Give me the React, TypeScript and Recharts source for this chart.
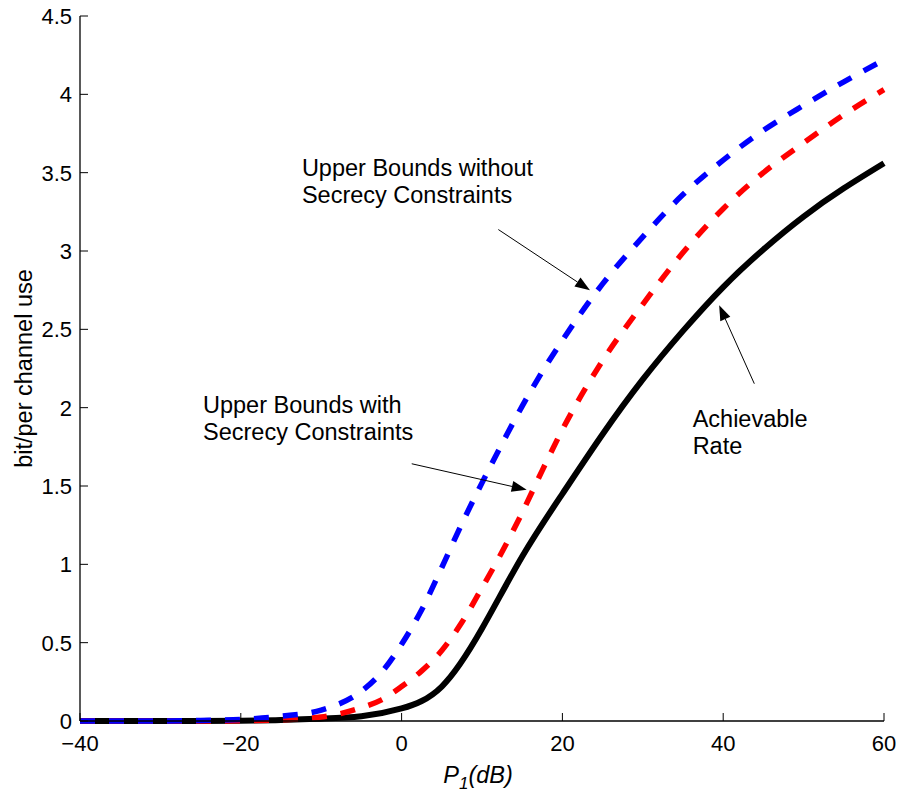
import {
  LineChart,
  Line,
  XAxis,
  YAxis,
  ReferenceLine,
  ReferenceDot,
} from "recharts";

// dense grid for the two upper bounds
const powerDb = [
  -40, -35, -30, -25, -20, -15, -10, -5, -2.5, 0, 2.5, 5, 7.5, 10, 12.5, 15,
  17.5, 20, 25, 30, 35, 40, 45, 50, 55, 60,
];
const withSecrecy = [
  0, 0, 0, 0, 0.002, 0.008, 0.025, 0.085, 0.135, 0.22, 0.32, 0.45, 0.63, 0.85,
  1.08, 1.33, 1.6, 1.86, 2.3, 2.66, 2.99, 3.27, 3.5, 3.69, 3.87, 4.03,
];
const withoutSecrecy = [
  0, 0, 0, 0.003, 0.01, 0.03, 0.07, 0.19, 0.31, 0.49, 0.71, 0.98, 1.26, 1.52,
  1.77, 2.01, 2.23, 2.43, 2.79, 3.09, 3.36, 3.58, 3.77, 3.93, 4.08, 4.22,
];
// even grid for the achievable rate (natural spline)
const powerDbRate = [
  -40, -35, -30, -25, -20, -15, -10, -5, 0, 5, 10, 15, 20, 25, 30, 35, 40, 45,
  50, 55, 60,
];
const achievable = [
  0, 0, 0, 0, 0.002, 0.006, 0.015, 0.03, 0.08, 0.22, 0.59, 1.05, 1.45, 1.83,
  2.18, 2.49, 2.77, 3.01, 3.22, 3.4, 3.56,
];
const xTicks = [-40, -20, 0, 20, 40, 60];
const yTicks = [0, 0.5, 1, 1.5, 2, 2.5, 3, 3.5, 4, 4.5];

const data = powerDb.map((x, i) => ({
  x,
  up: withSecrecy[i],
  upNo: withoutSecrecy[i],
}));
const rateData = powerDbRate.map((x, i) => ({ x, ach: achievable[i] }));

const FONT = "'Liberation Sans', Arial, Helvetica, sans-serif";
const FS = 22; // tick labels
const LFS = 23.5; // annotations and axis titles
const TICK = 8;

const fmt = (v: number) => (v < 0 ? "\u2212" + Math.abs(v) : String(v));

function BottomTick({ x, y, payload }: any) {
  return (
    <g>
      <line x1={x} y1={y} x2={x} y2={y - TICK} stroke="#000" strokeWidth={1} />
      <text x={x} y={y + 30} textAnchor="middle" fontFamily={FONT} fontSize={FS} fill="#000">
        {fmt(payload.value)}
      </text>
    </g>
  );
}
function TopTick({ x, y }: any) {
  return <line x1={x} y1={y} x2={x} y2={y + TICK} stroke="#000" strokeWidth={1} />;
}
function LeftTick({ x, y, payload }: any) {
  return (
    <g>
      <line x1={x} y1={y} x2={x + TICK} y2={y} stroke="#000" strokeWidth={1} />
      <text x={x - 8} y={y + 8} textAnchor="end" fontFamily={FONT} fontSize={FS} fill="#000">
        {payload.value}
      </text>
    </g>
  );
}
function RightTick({ x, y }: any) {
  return <line x1={x} y1={y} x2={x - TICK} y2={y} stroke="#000" strokeWidth={1} />;
}

function Arrow({ x1, y1, x2, y2 }: any) {
  const a = Math.atan2(y2 - y1, x2 - x1);
  const len = 15;
  const w = 5.5;
  const bx = x2 - len * Math.cos(a);
  const by = y2 - len * Math.sin(a);
  const px = -Math.sin(a) * w;
  const py = Math.cos(a) * w;
  return (
    <g>
      <line x1={x1} y1={y1} x2={bx} y2={by} stroke="#000" strokeWidth={1} />
      <polygon points={`${x2},${y2} ${bx + px},${by + py} ${bx - px},${by - py}`} fill="#000" />
    </g>
  );
}

function Note(lines: string[]) {
  return ({ cx, cy }: any) => (
    <text x={cx} y={cy} fontFamily={FONT} fontSize={LFS} fill="#000">
      {lines.map((l, i) => (
        <tspan key={i} x={cx} dy={i === 0 ? 0 : 27}>
          {l}
        </tspan>
      ))}
    </text>
  );
}

function XLabel({ viewBox }: any) {
  const cx = viewBox.x + viewBox.width / 2 - 4;
  const y = viewBox.y + 62;
  return (
    <text x={cx} y={y} textAnchor="middle" fontFamily={FONT} fontSize={LFS} fontStyle="italic" fill="#000">
      <tspan>P</tspan>
      <tspan dy={6} fontSize={17}>1</tspan>
      <tspan dy={-6}>(dB)</tspan>
    </text>
  );
}

function YLabel({ viewBox }: any) {
  const x = 32;
  const y = viewBox.y + viewBox.height / 2;
  return (
    <text x={x} y={y} transform={`rotate(-90 ${x} ${y})`} textAnchor="middle" fontFamily={FONT} fontSize={LFS} fill="#000">
      bit/per channel use
    </text>
  );
}

export default function App() {
  return (
    <div style={{ position: "absolute", left: 0, top: 0, width: 900, height: 797, background: "#fff" }}>
      <LineChart width={900} height={797} data={data} margin={{ top: 16, right: 16, bottom: 0, left: 0 }}>
        <XAxis
          xAxisId="b"
          dataKey="x"
          type="number"
          domain={[-40, 60]}
          ticks={xTicks}
          height={76}
          tickSize={0}
          tickMargin={0}
          tickLine={false}
          axisLine={{ stroke: "#000", strokeWidth: 1.3 }}
          tick={<BottomTick />}
          label={<XLabel />}
          interval={0}
          allowDuplicatedCategory={false}
        />
        <XAxis
          xAxisId="t"
          orientation="top"
          dataKey="x"
          type="number"
          domain={[-40, 60]}
          ticks={xTicks}
          height={0}
          tickSize={0}
          tickMargin={0}
          tickLine={false}
          axisLine={{ stroke: "#000", strokeWidth: 1.3 }}
          tick={<TopTick />}
          interval={0}
        />
        <YAxis
          yAxisId="l"
          type="number"
          domain={[0, 4.5]}
          ticks={yTicks}
          width={80}
          tickSize={0}
          tickMargin={0}
          tickLine={false}
          axisLine={{ stroke: "#000", strokeWidth: 1.3 }}
          tick={<LeftTick />}
          label={<YLabel />}
          interval={0}
        />
        <YAxis
          yAxisId="r"
          orientation="right"
          type="number"
          domain={[0, 4.5]}
          ticks={yTicks}
          width={0}
          tickSize={0}
          tickMargin={0}
          tickLine={false}
          axisLine={{ stroke: "#000", strokeWidth: 1.3 }}
          tick={<RightTick />}
          interval={0}
        />
        <Line
          xAxisId="b"
          yAxisId="l"
          data={rateData}
          dataKey="ach"
          type="natural"
          stroke="#000"
          strokeWidth={6}
          dot={false}
          isAnimationActive={false}
        />
        <Line
          xAxisId="b"
          yAxisId="l"
          dataKey="up"
          type="monotone"
          stroke="#ff0000"
          strokeWidth={5.5}
          strokeDasharray="15 14"
          dot={false}
          isAnimationActive={false}
        />
        <Line
          xAxisId="b"
          yAxisId="l"
          dataKey="upNo"
          type="monotone"
          stroke="#0000ff"
          strokeWidth={5.5}
          strokeDasharray="15 14"
          dot={false}
          isAnimationActive={false}
        />
        <ReferenceLine
          xAxisId="b"
          yAxisId="l"
          segment={[{ x: 12.03, y: 3.137 }, { x: 23.43, y: 2.749 }]}
          shape={(p: any) => <Arrow {...p} />}
        />
        <ReferenceLine
          xAxisId="b"
          yAxisId="l"
          segment={[{ x: 1.26, y: 1.642 }, { x: 15.56, y: 1.476 }]}
          shape={(p: any) => <Arrow {...p} />}
        />
        <ReferenceLine
          xAxisId="b"
          yAxisId="l"
          segment={[{ x: 43.87, y: 2.153 }, { x: 39.5, y: 2.653 }]}
          shape={(p: any) => <Arrow {...p} />}
        />
        <ReferenceDot
          xAxisId="b"
          yAxisId="l"
          x={-12.4}
          y={3.477}
          shape={Note(["Upper Bounds without", "Secrecy Constraints"])}
        />
        <ReferenceDot
          xAxisId="b"
          yAxisId="l"
          x={-24.7}
          y={1.966}
          shape={Note(["Upper Bounds with", "Secrecy Constraints"])}
        />
        <ReferenceDot
          xAxisId="b"
          yAxisId="l"
          x={36.2}
          y={1.876}
          shape={Note(["Achievable", "Rate"])}
        />
      </LineChart>
    </div>
  );
}
